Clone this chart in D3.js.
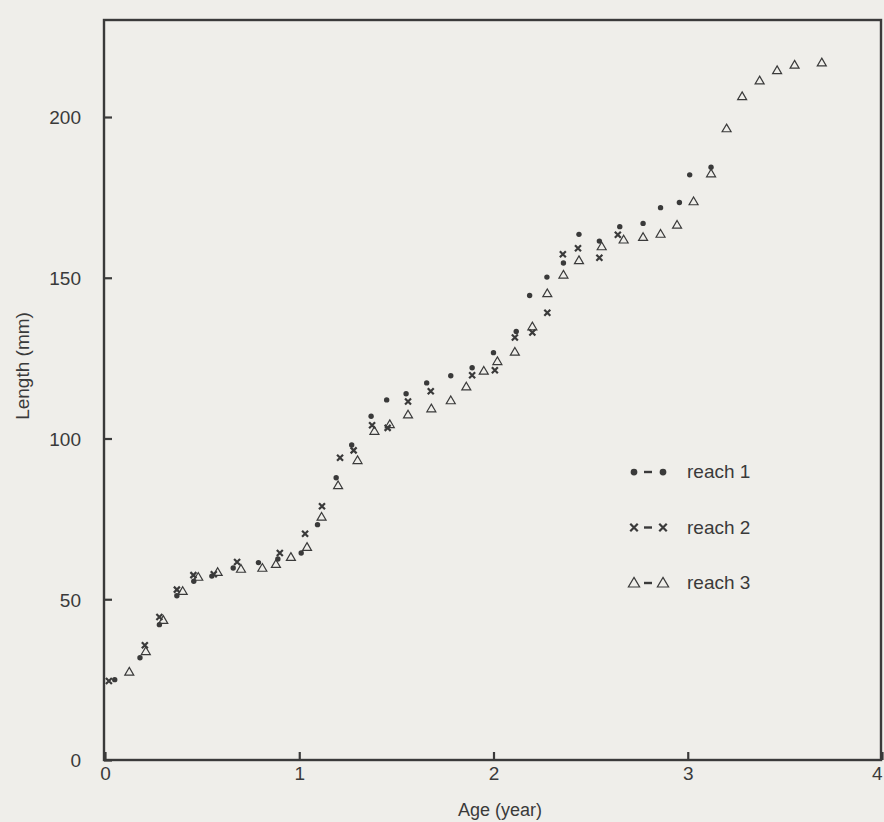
<!DOCTYPE html>
<html>
<head>
<meta charset="utf-8">
<script src="https://cdn.jsdelivr.net/npm/d3@7"></script>
<style>
	html, body { margin: 0; padding: 0; background: #efeeea; }
	svg { display: block; }
	text { font-family: 'Liberation Sans', Arial, sans-serif; fill: #3a3a3a; }
</style>
</head>
<body>
<svg id="chart" width="884" height="822"></svg>
<script>
// age (year), length (mm)
const reach1 = [
	[0.05, 25], [0.18, 31.8], [0.28, 42.1], [0.37, 51.1], [0.457, 55.6], [0.55, 57.2],
	[0.66, 59.7], [0.79, 61.4], [0.89, 62.5], [1.01, 64.4], [1.094, 73.2], [1.19, 87.8],
	[1.27, 98.0], [1.37, 106.9], [1.45, 112.0], [1.55, 113.9], [1.656, 117.3], [1.78, 119.5],
	[1.89, 122.0], [2.0, 126.7], [2.117, 133.3], [2.186, 144.5], [2.275, 150.2], [2.36, 154.6],
	[2.44, 163.5], [2.545, 161.4], [2.65, 165.9], [2.77, 166.9], [2.86, 171.8], [2.957, 173.4],
	[3.01, 182.0], [3.12, 184.4]
];
const reach2 = [
	[0.02, 24.6], [0.205, 35.7], [0.28, 44.5], [0.37, 53], [0.455, 57.5], [0.56, 57.8],
	[0.68, 61.6], [0.90, 64.4], [1.03, 70.4], [1.117, 78.9], [1.21, 94.0], [1.28, 96.3],
	[1.375, 104.1], [1.455, 103.3], [1.56, 111.5], [1.677, 114.7], [1.89, 119.7], [2.007, 121.2],
	[2.11, 131.4], [2.2, 133.0], [2.277, 139.1], [2.357, 157.3], [2.435, 159.2], [2.545, 156.2],
	[2.64, 163.4]
];
const reach3 = [
	[0.125, 27.4], [0.21, 33.8], [0.30, 43.5], [0.40, 52.5], [0.48, 56.9], [0.58, 58.4],
	[0.70, 59.4], [0.81, 59.7], [0.88, 60.9], [0.957, 63.1], [1.04, 66.2], [1.115, 75.6],
	[1.20, 85.4], [1.30, 93.2], [1.387, 102.3], [1.466, 104.4], [1.56, 107.4], [1.68, 109.3],
	[1.78, 111.8], [1.86, 116.1], [1.95, 121.0], [2.02, 124.0], [2.11, 126.9], [2.2, 134.8],
	[2.277, 145.1], [2.36, 150.9], [2.44, 155.4], [2.557, 159.7], [2.67, 161.8], [2.77, 162.6],
	[2.86, 163.6], [2.945, 166.4], [3.03, 173.7], [3.12, 182.4], [3.20, 196.4], [3.28, 206.4],
	[3.37, 211.3], [3.46, 214.5], [3.55, 216.2], [3.69, 216.9]
];
const xTicks = [0, 1, 2, 3, 4];
const yTicks = [0, 50, 100, 150, 200];
const legendLabels = ['reach 1', 'reach 2', 'reach 3'];

const plot = { left: 104, right: 881, top: 20, bottom: 760 };
const ink = '#3a3a3a';

const svg = d3.select('#chart');

const x = d3.scaleLinear().domain([0, 4]).range([plot.left + 1, plot.right + 1]);
const y = d3.scaleLinear().domain([0, 200]).range([plot.bottom, 117]);

// frame
svg.append('rect')
	.attr('x', plot.left).attr('y', plot.top)
	.attr('width', plot.right - plot.left).attr('height', plot.bottom - plot.top)
	.attr('fill', 'none').attr('stroke', ink).attr('stroke-width', 2.4);

// axes with inward ticks
const xAxis = svg.append('g')
	.attr('transform', `translate(0,${plot.bottom})`)
	.call(d3.axisBottom(x).tickValues(xTicks).tickFormat(d3.format('d'))
		.tickSizeInner(-8).tickSizeOuter(0).tickPadding(7));
const yAxis = svg.append('g')
	.attr('transform', `translate(${plot.left},0)`)
	.call(d3.axisLeft(y).tickValues(yTicks).tickFormat(d3.format('d'))
		.tickSizeInner(-8).tickSizeOuter(0).tickPadding(23));

[xAxis, yAxis].forEach(g => {
	g.select('.domain').remove();
	g.selectAll('line').attr('stroke', ink).attr('stroke-width', 2.2);
	g.selectAll('text').style('font-size', '19px').attr('fill', ink);
});
yAxis.selectAll('text').attr('dy', '0.36em');
// last label sits on the page edge, keep it inside
xAxis.selectAll('text').filter(d => d === 4).attr('text-anchor', 'end');

// axis titles
svg.append('text')
	.attr('x', 500).attr('y', 816)
	.attr('text-anchor', 'middle')
	.style('font-size', '18px')
	.text('Age (year)');
svg.append('text')
	.attr('transform', 'translate(29,366) rotate(-90)')
	.attr('text-anchor', 'middle')
	.style('font-size', '19px')
	.text('Length (mm)');

// markers
const drawDot = (g, px, py, k = 1) => g.append('circle')
	.attr('cx', px).attr('cy', py).attr('r', 2.7 * k).attr('fill', ink);
const drawCross = (g, px, py, k = 1) => g.append('path')
	.attr('d', `M${px - 3 * k},${py - 3 * k}L${px + 3 * k},${py + 3 * k}M${px + 3 * k},${py - 3 * k}L${px - 3 * k},${py + 3 * k}`)
	.attr('stroke', ink).attr('stroke-width', 2.2).attr('fill', 'none');
const drawTri = (g, px, py, k = 1) => g.append('path')
	.attr('d', `M${px},${py - 4.5 * k}L${px + 4.5 * k},${py + 3.2 * k}L${px - 4.5 * k},${py + 3.2 * k}Z`)
	.attr('stroke', ink).attr('stroke-width', 1.2).attr('fill', 'none');

const series = [
	{ data: reach1, draw: drawDot },
	{ data: reach2, draw: drawCross },
	{ data: reach3, draw: drawTri },
];

series.forEach(s => {
	const g = svg.append('g');
	s.data.forEach(d => s.draw(g, x(d[0]), y(d[1])));
});

// legend
const lg = svg.append('g');
legendLabels.forEach((label, i) => {
	const ly = 472 + i * 55.5;
	series[i].draw(lg, 634, ly, 1.25);
	series[i].draw(lg, 663, ly, 1.25);
	lg.append('line')
		.attr('x1', 644).attr('x2', 652).attr('y1', ly).attr('y2', ly)
		.attr('stroke', ink).attr('stroke-width', 2.4);
	lg.append('text')
		.attr('x', 687).attr('y', ly + 6)
		.style('font-size', '19px')
		.text(label);
});
</script>
</body>
</html>
